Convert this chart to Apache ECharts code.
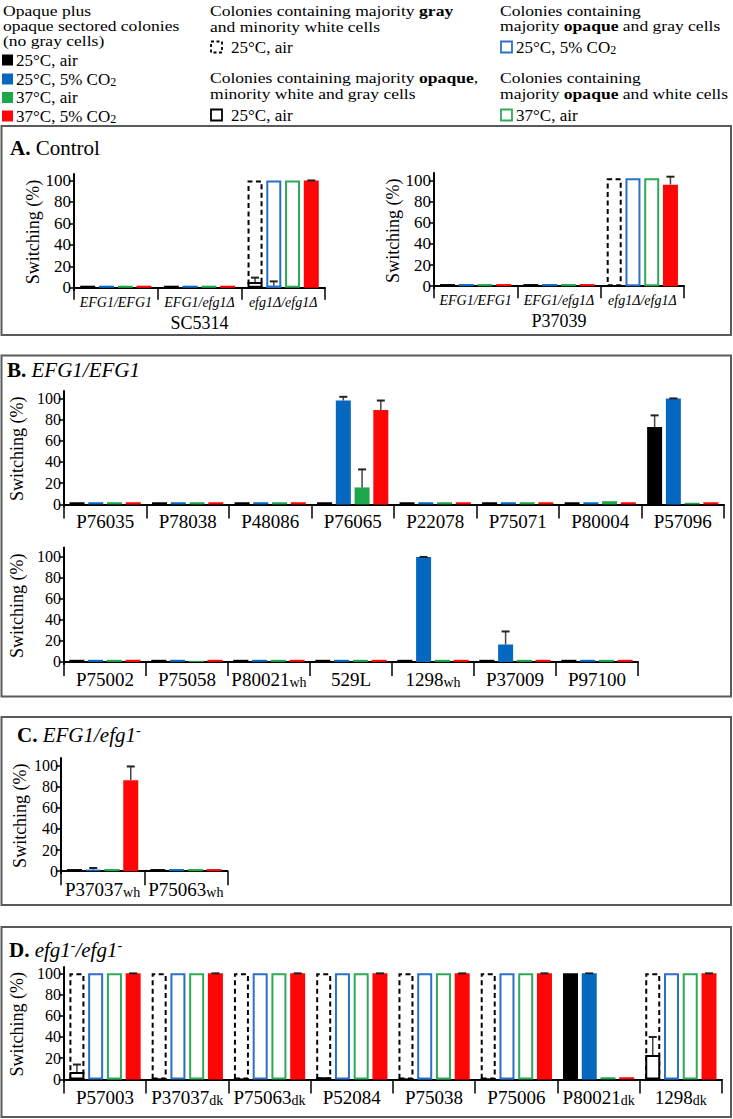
<!DOCTYPE html>
<html><head><meta charset="utf-8">
<script src="https://cdn.jsdelivr.net/npm/echarts@6/dist/echarts.min.js"></script>
<style>html,body{margin:0;padding:0;background:#fff;font-family:'Liberation Serif',serif}#c{width:733px;height:1119px}</style>
</head><body><div id="c"></div>
<script>
// ---------------- DATA ----------------
const yTicks = [0, 20, 40, 60, 80, 100];

// Panel A – SC5314
const sc5314Cats = ['EFG1/EFG1', 'EFG1/efg1Δ', 'efg1Δ/efg1Δ'];
const sc5314Black = [2, 2, null];
const sc5314Blue = [2, 2, 2];
const sc5314BlueErr = [null, null, 6];
const sc5314Green = [2, 2, null];
const sc5314Red = [2, 2, 100];
const sc5314RedErr = [null, null, 100];
const sc5314Gray = [null, null, 100];          // majority gray (dashed)
const sc5314OpaqueMix = [null, null, 5.5];     // majority opaque, minority white+gray
const sc5314OpaqueMixErr = [null, null, 9.5];
const sc5314OpaqueGray = [null, null, 100];    // opaque + gray (blue outline)
const sc5314OpaqueWhite = [null, null, 100];   // opaque + white (green outline)

// Panel A – P37039
const p37039Cats = ['EFG1/EFG1', 'EFG1/efg1Δ', 'efg1Δ/efg1Δ'];
const p37039Black = [2, 2, null];
const p37039Blue = [2, 2, null];
const p37039Green = [2, 2, null];
const p37039Red = [2, 2, 96];
const p37039RedErr = [null, null, 103.5];
const p37039Gray = [null, null, 102];
const p37039OpaqueGray = [null, null, 102];
const p37039OpaqueWhite = [null, null, 102];

// Panel B – top row
const bTopCats = ['P76035', 'P78038', 'P48086', 'P76065', 'P22078', 'P75071', 'P80004', 'P57096'];
const bTopBlack = [2, 2, 2, 2, 2, 2, 2, 73];
const bTopBlackErr = [null, null, null, null, null, null, null, 84];
const bTopBlue = [2, 2, 2, 98, 2, 2, 2, 100];
const bTopBlueErr = [null, null, null, 101.5, null, null, null, 100];
const bTopGreen = [2, 2, 2, 16, 2, 2, 3, 1.5];
const bTopGreenErr = [null, null, null, 33, null, null, null, null];
const bTopRed = [2, 2, 2, 89, 2, 2, 2, 2];
const bTopRedErr = [null, null, null, 98, null, null, null, null];

// Panel B – bottom row
const bBotCats = ['P75002', 'P75058', 'P80021wh', '529L', '1298wh', 'P37009', 'P97100'];
const bBotBlack = [2, 2, 2, 2, 2, 2, 2];
const bBotBlue = [2, 2, 2, 2, 100, 16.5, 2];
const bBotBlueErr = [null, null, null, null, 100, 29, null];
const bBotGreen = [2, 1, 2, 2, 2, 2, 2];
const bBotRed = [2, 2, 2, 2, 2, 2, 2];

// Panel C
const cCats = ['P37037wh', 'P75063wh'];
const cBlack = [2, 2];
const cBlue = [1.5, 2];
const cBlueErr = [3, null];
const cGreen = [2, 2];
const cRed = [86, 2];
const cRedErr = [99, null];

// Panel D
const dCats = ['P57003', 'P37037dk', 'P75063dk', 'P52084', 'P75038', 'P75006', 'P80021dk', '1298dk'];
const dBlack = [null, 1, 1, 2, 1, 1, 100, null];
const dBlue = [null, null, null, null, 1, 1, 100, 1];
const dBlueErr = [null, null, null, null, null, null, 100, null];
const dGreen = [1, null, null, null, 1, null, 2, null];
const dRed = [100, 100, 100, 100, 100, 100, 2, 100];
const dRedErr = [100, 100, 100, 100, 100, 100, null, 100];
const dGray = [100, 100, 100, 100, 100, 100, null, 100];
const dOpaqueMix = [7, null, null, null, null, null, null, 23];
const dOpaqueMixErr = [14, null, null, null, null, null, null, 40];
const dOpaqueGray = [100, 100, 100, 100, 100, 100, null, 100];
const dOpaqueWhite = [100, 100, 100, 100, 100, 100, null, 100];

// Legend texts
const legendFilledTitle = ['Opaque plus', 'opaque sectored colonies', '(no gray cells)'];
const legendFilledItems = ['25°C, air', '25°C, 5% CO|2', '37°C, air', '37°C, 5% CO|2'];

// ---------------- STYLE ----------------
const FONT = 'Liberation Serif';
const BLACK = '#000000', BLUE = '#0468c1', GREEN = '#1ea64a', RED = '#ff0606';
const BLUE_L = '#2c70c6', GREEN_L = '#2fa957';
const BW = 15, GAP = 0.25, PITCH = BW * (1 + GAP);

const grids = [], xAxes = [], yAxes = [], series = [];

function catFmt(v) {
  const m = /^(.*?)(wh|dk)$/.exec(v);
  return m ? '{m|' + m[1] + '}{s|' + m[2] + '}' : '{m|' + v + '}';
}

function addChart(c) {
  const gi = grids.length, xi = xAxes.length, yi = yAxes.length;
  const none = c.cats.map(() => null);
  grids.push({ left: c.left, top: c.top, width: c.width, height: c.height });
  xAxes.push({
    type: 'category', gridIndex: gi, data: c.cats, position: 'bottom',
    axisLine: { show: true, lineStyle: { color: '#000', width: 2 } },
    axisTick: { show: true, length: c.tickLen, lineStyle: { color: '#000', width: 1.5 } },
    axisLabel: {
      interval: 0, margin: c.labelMargin, formatter: catFmt, fontFamily: FONT,
      rich: {
        m: { fontFamily: FONT, fontSize: c.labelSize, fontStyle: c.italic ? 'italic' : 'normal', color: '#000', lineHeight: c.labelSize + 1 },
        s: { fontFamily: FONT, fontSize: 14, color: '#000', verticalAlign: 'bottom', lineHeight: 15 }
      }
    },
    name: c.name || '', nameLocation: 'middle', nameGap: 24,
    nameTextStyle: { fontFamily: FONT, fontSize: 18, color: '#000' }
  });
  xAxes.push({ type: 'category', gridIndex: gi, data: c.cats, show: false });
  yAxes.push({
    type: 'value', gridIndex: gi, min: -2, max: c.max,
    axisLine: { show: true, lineStyle: { color: '#000', width: 2 } },
    axisTick: { show: true, length: 5, customValues: yTicks, lineStyle: { color: '#000', width: 1.5 } },
    axisLabel: { customValues: yTicks, margin: 3, fontFamily: FONT, fontSize: c.tickSize, color: '#000' },
    splitLine: { show: false },
    name: 'Switching (%)', nameLocation: 'middle', nameRotate: 90, nameGap: c.nameGap,
    nameTextStyle: { fontFamily: FONT, fontSize: 18, color: '#000' }
  });
  const base = { type: 'bar', barWidth: BW, barGap: (GAP * 100) + '%', yAxisIndex: yi, animation: false, silent: true };
  // layer 0: filled bars (+ hollow black stacked in slot 1)
  series.push(Object.assign({}, base, { xAxisIndex: xi, stack: 'k' + gi, data: c.black || none, itemStyle: { color: BLACK }, z: 2 }));
  series.push(Object.assign({}, base, { xAxisIndex: xi, stack: 'k' + gi, data: c.opaqueMix || none, itemStyle: { color: '#fff', borderColor: '#000', borderWidth: 2 }, z: 4 }));
  series.push(Object.assign({}, base, { xAxisIndex: xi, data: c.blue || none, itemStyle: { color: BLUE }, z: 2 }));
  series.push(Object.assign({}, base, { xAxisIndex: xi, data: c.green || none, itemStyle: { color: GREEN }, z: 2 }));
  series.push(Object.assign({}, base, { xAxisIndex: xi, data: c.red || none, itemStyle: { color: RED }, z: 2 }));
  // layer 1: outlined bars
  series.push(Object.assign({}, base, { xAxisIndex: xi + 1, data: c.gray || none, itemStyle: { color: 'rgba(0,0,0,0)', borderColor: '#000', borderWidth: 2, borderType: [5, 3.5] }, z: 3 }));
  series.push(Object.assign({}, base, { xAxisIndex: xi + 1, data: c.opaqueGray || none, itemStyle: { color: 'rgba(0,0,0,0)', borderColor: BLUE_L, borderWidth: 2 }, z: 3 }));
  series.push(Object.assign({}, base, { xAxisIndex: xi + 1, data: c.opaqueWhite || none, itemStyle: { color: 'rgba(0,0,0,0)', borderColor: GREEN_L, borderWidth: 2 }, z: 3 }));
  series.push(Object.assign({}, base, { xAxisIndex: xi + 1, data: none, itemStyle: { color: 'rgba(0,0,0,0)' }, z: 3 }));
  // error bars
  const errData = [];
  [['black', 0], ['opaqueMix', 0], ['blue', 1], ['green', 2], ['red', 3]].forEach(([k, slot]) => {
    const v = c[k], e = c[k + 'Err'];
    if (!v || !e) return;
    e.forEach((t, i) => { if (t != null && v[i] != null) errData.push([i, slot, v[i], t]); });
  });
  series.push({
    type: 'custom', xAxisIndex: xi, yAxisIndex: yi, z: 6, silent: true, animation: false, clip: false,
    data: errData, encode: { x: 0, y: 3 },
    renderItem: function (p, api) {
      const b = api.coord([api.value(0), api.value(2)]);
      const t = api.coord([api.value(0), api.value(3)]);
      const x = b[0] + (api.value(1) - 1.5) * PITCH;
      return {
        type: 'group', children: [
          { type: 'line', shape: { x1: x, y1: b[1], x2: x, y2: t[1] }, style: { stroke: '#444', lineWidth: 1.5 } },
          { type: 'line', shape: { x1: x - 4, y1: t[1], x2: x + 4, y2: t[1] }, style: { stroke: '#222', lineWidth: 2 } }
        ]
      };
    }
  });
}

addChart({ cats: sc5314Cats, black: sc5314Black, blue: sc5314Blue, blueErr: sc5314BlueErr, green: sc5314Green,
  red: sc5314Red, redErr: sc5314RedErr, gray: sc5314Gray, opaqueMix: sc5314OpaqueMix, opaqueMixErr: sc5314OpaqueMixErr,
  opaqueGray: sc5314OpaqueGray, opaqueWhite: sc5314OpaqueWhite, name: 'SC5314',
  left: 74, top: 174, width: 251, height: 116, max: 106, italic: true, labelSize: 14, labelMargin: 5, tickLen: 12, tickSize: 17, nameGap: 28 });
addChart({ cats: p37039Cats, black: p37039Black, blue: p37039Blue, green: p37039Green,
  red: p37039Red, redErr: p37039RedErr, gray: p37039Gray, opaqueGray: p37039OpaqueGray, opaqueWhite: p37039OpaqueWhite, name: 'P37039',
  left: 434, top: 173, width: 250, height: 115.3, max: 107, italic: true, labelSize: 14, labelMargin: 5, tickLen: 12, tickSize: 17, nameGap: 28 });
addChart({ cats: bTopCats, black: bTopBlack, blackErr: bTopBlackErr, blue: bTopBlue, blueErr: bTopBlueErr,
  green: bTopGreen, greenErr: bTopGreenErr, red: bTopRed, redErr: bTopRedErr,
  left: 61, top: 391, width: 663, height: 115.5, max: 107, labelSize: 19, labelMargin: 5, tickLen: 14, tickSize: 16, nameGap: 31 });
addChart({ cats: bBotCats, black: bBotBlack, blue: bBotBlue, blueErr: bBotBlueErr, green: bBotGreen, red: bBotRed,
  left: 61, top: 547.5, width: 577, height: 116.5, max: 109, labelSize: 19, labelMargin: 5, tickLen: 14, tickSize: 16, nameGap: 31 });
addChart({ cats: cCats, black: cBlack, blue: cBlue, blueErr: cBlueErr, green: cGreen, red: cRed, redErr: cRedErr,
  left: 61, top: 758, width: 166.5, height: 115.3, max: 107, labelSize: 19, labelMargin: 6, tickLen: 14, tickSize: 16, nameGap: 32 });
addChart({ cats: dCats, black: dBlack, blue: dBlue, blueErr: dBlueErr, green: dGreen, red: dRed, redErr: dRedErr,
  gray: dGray, opaqueMix: dOpaqueMix, opaqueMixErr: dOpaqueMixErr, opaqueGray: dOpaqueGray, opaqueWhite: dOpaqueWhite,
  left: 61, top: 967, width: 661, height: 114.5, max: 106, labelSize: 19, labelMargin: 6, tickLen: 14, tickSize: 16, nameGap: 30 });

// ---------------- GRAPHIC (legend, panel boxes, titles) ----------------
function tok(size, extra) {
  return Object.assign({ fontFamily: FONT, fontSize: size, fontWeight: 'normal', fontStyle: 'normal', fill: '#000', color: '#000' }, extra || {});
}
const HS = 15, SX = 1.17;   // heading font size and horizontal stretch
const headRich = {
  t: tok(HS, { lineHeight: HS }),
  b: tok(HS, { lineHeight: HS, fontWeight: 'bold' })
};
const itemRich = {
  t: tok(17, { lineHeight: 18 }),
  s: tok(12, { lineHeight: 13, verticalAlign: 'bottom' })
};
function richLine(s) {
  const parts = s.split('|');
  return '{t|' + parts[0] + '}' + (parts[1] ? '{s|' + parts[1] + '}' : '');
}
function headLine(x, cy, text) {
  return { type: 'text', x: x, y: cy, scaleX: SX, silent: true,
    style: { text: text, rich: headRich, fontFamily: FONT, fontSize: HS, verticalAlign: 'middle', align: 'left', fill: '#000' } };
}
function itemText(x, y, s) {
  return { type: 'text', x: x, y: y, silent: true, style: { text: richLine(s), rich: itemRich, fontFamily: FONT, fontSize: 17, verticalAlign: 'middle', align: 'left', fill: '#000' } };
}
function icon(x, cy, fill, stroke, dash) {
  return { type: 'rect', silent: true, shape: { x: x, y: cy - 5.5, width: 11, height: 11 },
    style: { fill: fill, stroke: stroke, lineWidth: stroke ? 1.8 : 0, lineDash: dash || null } };
}
const graphic = [];
// Column 1
const col1Y = [11, 26, 41];
legendFilledTitle.forEach((s, i) => graphic.push(headLine(3, col1Y[i], '{t|' + s + '}')));
const filledColors = [BLACK, BLUE, GREEN, RED];
const filledY = [60, 79, 97.5, 116];
legendFilledItems.forEach((s, i) => {
  graphic.push(icon(2, filledY[i], filledColors[i], null));
  graphic.push(itemText(16, filledY[i], s));
});
// Column 2
graphic.push(headLine(210, 11, '{t|Colonies containing majority }{b|gray}'));
graphic.push(headLine(210, 26.5, '{t|and minority white cells}'));
graphic.push(icon(211, 47, 'none', '#000', [3, 2.5]));
graphic.push(itemText(231, 47, '25°C, air'));
graphic.push(headLine(210, 78, '{t|Colonies containing majority }{b|opaque}{t|,}'));
graphic.push(headLine(210, 93.5, '{t|minority white and gray cells}'));
graphic.push(icon(211, 115, '#fff', '#000'));
graphic.push(itemText(231, 115, '25°C, air'));
// Column 3
graphic.push(headLine(500, 11, '{t|Colonies containing}'));
graphic.push(headLine(500, 26, '{t|majority }{b|opaque}{t| and gray cells}'));
graphic.push(icon(501, 47, '#fff', BLUE_L));
graphic.push(itemText(516, 47, '25°C, 5% CO|2'));
graphic.push(headLine(500, 78, '{t|Colonies containing}'));
graphic.push(headLine(500, 93.5, '{t|majority }{b|opaque}{t| and white cells}'));
graphic.push(icon(501, 115, '#fff', GREEN_L));
graphic.push(itemText(516, 115, '37°C, air'));

// Panel boxes
[[126, 209], [355.5, 341], [717, 188], [927, 190]].forEach(([y, h]) => {
  graphic.push({ type: 'rect', silent: true, z: -1, shape: { x: 1.5, y: y, width: 729.5, height: h }, style: { fill: 'none', stroke: '#5a5a5a', lineWidth: 2 } });
});
const titleRich = {
  b: tok(21, { fontWeight: 'bold', lineHeight: 24 }),
  t: tok(21, { lineHeight: 24 }),
  i: tok(21, { fontStyle: 'italic', lineHeight: 24 }),
  sup: tok(14, { lineHeight: 14, verticalAlign: 'top' })
};
function title(x, y, text) {
  return { type: 'text', x: x, y: y, silent: true, style: { text: text, rich: titleRich, fontFamily: FONT, fontSize: 21, verticalAlign: 'middle', fill: '#000' } };
}
graphic.push(title(10, 148, '{b|A.}{t| Control}'));
graphic.push(title(7, 370, '{b|B.}{t| }{i|EFG1/EFG1}'));
graphic.push(title(17, 735, '{b|C.}{t| }{i|EFG1/efg1}{sup|-}'));
graphic.push(title(9, 950, '{b|D.}{t| }{i|efg1}{sup|-}{i|/efg1}{sup|-}'));

const chart = echarts.init(document.getElementById('c'), null, { renderer: 'svg', width: 733, height: 1119 });
chart.setOption({
  backgroundColor: '#fff',
  animation: false,
  textStyle: { fontFamily: FONT },
  grid: grids, xAxis: xAxes, yAxis: yAxes, series: series, graphic: graphic
});
</script>
</body></html>
